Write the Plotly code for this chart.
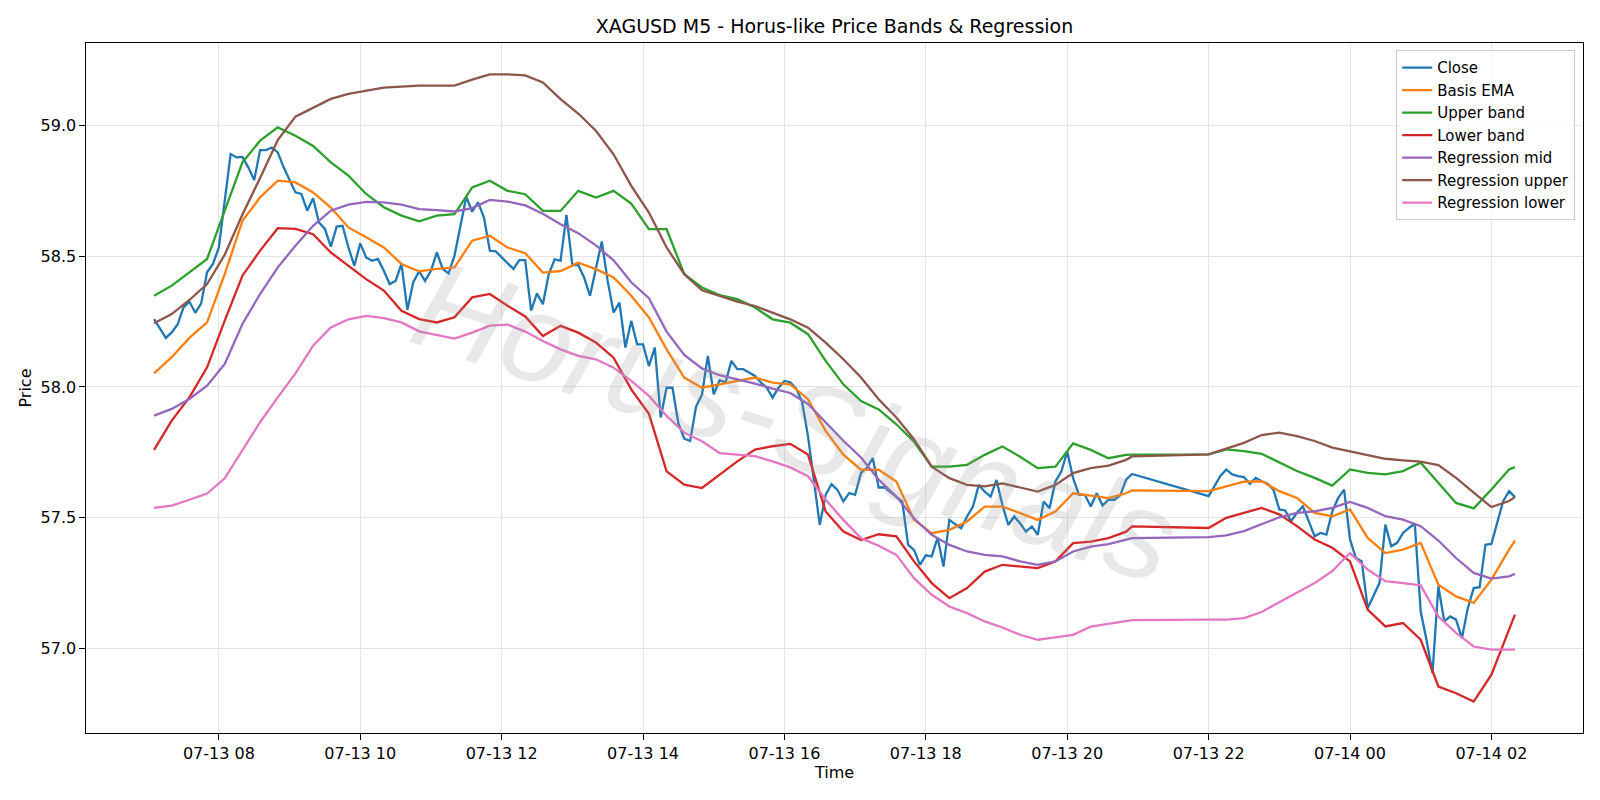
import pandas as pd
import plotly.graph_objects as go

# ---------------- data ----------------
close_vals = [
    # 07:05 .. 07:55
    58.260, 58.222, 58.188, 58.209, 58.239, 58.305, 58.327, 58.284, 58.320, 58.439, 58.471,
    # 08:00 .. 08:55
    58.534, 58.713, 58.892, 58.879, 58.881, 58.841, 58.792, 58.907, 58.907, 58.917, 58.898, 58.841,
    # 09
    58.790, 58.745, 58.739, 58.675, 58.723, 58.630, 58.605, 58.537, 58.614, 58.617, 58.534, 58.464,
    # 10
    58.550, 58.496, 58.483, 58.490, 58.445, 58.394, 58.406, 58.471, 58.295, 58.401, 58.443, 58.406,
    # 11
    58.445, 58.515, 58.452, 58.435, 58.503, 58.617, 58.728, 58.671, 58.707, 58.649, 58.522, 58.519,
    # 12
    58.496, 58.471, 58.452, 58.486, 58.486, 58.292, 58.358, 58.317, 58.432, 58.489, 58.483, 58.659,
    # 13
    58.467, 58.467, 58.419, 58.349, 58.457, 58.557, 58.406, 58.285, 58.323, 58.151, 58.253, 58.163,
    # 14
    58.163, 58.080, 58.151, 57.883, 57.997, 57.997, 57.860, 57.802, 57.793, 57.925, 57.970, 58.119,
    # 15
    57.972, 58.026, 58.017, 58.100, 58.068, 58.068, 58.055, 58.042, 58.017, 57.997, 57.959, 57.997,
    # 16
    58.023, 58.018, 57.994, 57.943, 57.812, 57.651, 57.472, 57.587, 57.628, 57.606, 57.562, 57.594,
    # 17
    57.587, 57.671, 57.690, 57.728, 57.615, 57.616, 57.597, 57.577, 57.561, 57.395, 57.376, 57.319,
    # 18
    57.355, 57.351, 57.423, 57.312, 57.491, 57.474, 57.459, 57.504, 57.542, 57.625, 57.599, 57.580,
    # 19
    57.644, 57.548, 57.472, 57.504, 57.478, 57.446, 57.466, 57.434, 57.561, 57.536, 57.638, 57.676,
    # 20
    57.753, 57.651, 57.587, 57.587, 57.542, 57.593, 57.546, 57.568, 57.568, 57.585, 57.645, 57.667,
    # 22
    57.582, 57.620, 57.659, 57.684, 57.665, 57.659, 57.655, 57.629, 57.652, 57.639, 57.629, 57.607,
    # 23
    57.531, 57.527, 57.486, 57.518, 57.543, 57.486, 57.428, 57.441, 57.435, 57.524, 57.575, 57.607,
    # 00
    57.416, 57.345, 57.332, 57.153, 57.198, 57.249, 57.473, 57.390, 57.403, 57.441, 57.460, 57.476,
    # 01
    57.140, 57.030, 56.904, 57.237, 57.102, 57.121, 57.109, 57.038, 57.153, 57.230, 57.233, 57.396,
    # 02:00 .. 02:20
    57.399, 57.486, 57.563, 57.601, 57.578,
]

basis_ema = [
    58.052, 58.114, 58.188, 58.247,
    58.432, 58.636, 58.726, 58.790,
    58.783, 58.745, 58.687, 58.611,
    58.573, 58.534, 58.471, 58.443,
    58.452, 58.458, 58.560, 58.579,
    58.534, 58.512, 58.438, 58.444,
    58.476, 58.451, 58.419, 58.349,
    58.266, 58.144, 58.036, 57.997,
    58.010, 58.023, 58.036, 58.017,
    58.010, 57.953, 57.832, 57.741,
    57.683, 57.683, 57.638, 57.491,
    57.440, 57.453, 57.485, 57.542,
    57.542, 57.517, 57.491, 57.523,
    57.593, 57.584, 57.574, 57.593, 57.604,
    57.601, 57.620, 57.637, 57.639,
    57.601, 57.575, 57.518, 57.505,
    57.531, 57.422, 57.364, 57.377,
    57.403, 57.243, 57.198, 57.173,
    57.262, 57.377, 57.412,
]

upper_band = [
    58.349, 58.388, 58.439, 58.490,
    58.675, 58.860, 58.943, 58.994,
    58.962, 58.923, 58.860, 58.809,
    58.739, 58.688, 58.656, 58.634,
    58.656, 58.662, 58.764, 58.790,
    58.751, 58.738, 58.674, 58.674,
    58.751, 58.725, 58.751, 58.702,
    58.604, 58.604, 58.432, 58.381,
    58.352, 58.336, 58.304, 58.259,
    58.246, 58.202, 58.100, 58.010,
    57.946, 57.914, 57.857, 57.790,
    57.695, 57.695, 57.702, 57.740,
    57.772, 57.733, 57.689, 57.695,
    57.784, 57.759, 57.727, 57.740, 57.741,
    57.742, 57.761, 57.754, 57.744,
    57.710, 57.678, 57.652, 57.622,
    57.684, 57.671, 57.665, 57.678,
    57.710, 57.633, 57.556, 57.535,
    57.607, 57.684, 57.693,
]

lower_band = [
    57.759, 57.871, 57.960, 58.075,
    58.254, 58.426, 58.522, 58.608,
    58.605, 58.585, 58.515, 58.464,
    58.413, 58.369, 58.292, 58.260,
    58.247, 58.267, 58.343, 58.356,
    58.311, 58.270, 58.195, 58.234,
    58.208, 58.170, 58.112, 57.991,
    57.897, 57.677, 57.626, 57.613,
    57.664, 57.715, 57.760, 57.773,
    57.782, 57.741, 57.523, 57.446,
    57.414, 57.436, 57.428, 57.332,
    57.249, 57.191, 57.230, 57.293,
    57.319, 57.313, 57.306, 57.332,
    57.402, 57.408, 57.421, 57.446, 57.466,
    57.460, 57.499, 57.518, 57.537,
    57.512, 57.467, 57.416, 57.384,
    57.332, 57.147, 57.083, 57.096,
    57.032, 56.853, 56.827, 56.795,
    56.898, 57.070, 57.128,
]

reg_mid = [
    57.890, 57.916, 57.954, 58.005,
    58.088, 58.241, 58.356, 58.458,
    58.541, 58.617, 58.675, 58.698,
    58.709, 58.707, 58.698, 58.681,
    58.677, 58.672, 58.685, 58.716,
    58.710, 58.695, 58.663, 58.623,
    58.589, 58.542, 58.485, 58.401,
    58.340, 58.212, 58.123, 58.071,
    58.045, 58.029, 58.013, 57.994,
    57.977, 57.935, 57.863, 57.794,
    57.730, 57.645, 57.580, 57.497,
    57.434, 57.395, 57.370, 57.357,
    57.351, 57.332, 57.319, 57.332,
    57.370, 57.389, 57.398, 57.415, 57.421,
    57.425, 57.432, 57.448, 57.473,
    57.501, 57.518, 57.524, 57.537,
    57.560, 57.537, 57.505, 57.492,
    57.467, 57.412, 57.345, 57.288,
    57.266, 57.275, 57.284,
]

reg_upper = [
    58.244, 58.279, 58.333, 58.394,
    58.506, 58.660, 58.800, 58.945,
    59.035, 59.070, 59.103, 59.122,
    59.134, 59.146, 59.150, 59.154,
    59.154, 59.154, 59.177, 59.197,
    59.197, 59.193, 59.166, 59.102,
    59.047, 58.981, 58.891, 58.770,
    58.668, 58.534, 58.432, 58.370,
    58.349, 58.327, 58.310, 58.285,
    58.259, 58.227, 58.170, 58.106,
    58.036, 57.953, 57.883, 57.800,
    57.695, 57.651, 57.625, 57.619,
    57.631, 57.615, 57.599, 57.625,
    57.670, 57.689, 57.699, 57.721, 57.734,
    57.742, 57.763, 57.786, 57.816,
    57.825, 57.812, 57.793, 57.768,
    57.754, 57.739, 57.725, 57.719,
    57.714, 57.701, 57.652, 57.595,
    57.540, 57.563, 57.578,
]

reg_lower = [
    57.537, 57.546, 57.568, 57.592,
    57.650, 57.756, 57.865, 57.960,
    58.052, 58.158, 58.228, 58.259,
    58.272, 58.264, 58.247, 58.213,
    58.199, 58.185, 58.208, 58.235,
    58.239, 58.212, 58.176, 58.144,
    58.119, 58.106, 58.074, 58.023,
    57.966, 57.889, 57.825, 57.792,
    57.747, 57.741, 57.735, 57.715,
    57.692, 57.658, 57.568, 57.491,
    57.421, 57.392, 57.357, 57.268,
    57.204, 57.159, 57.134, 57.102,
    57.079, 57.051, 57.032, 57.041,
    57.051, 57.082, 57.092, 57.102, 57.107,
    57.109, 57.109, 57.115, 57.138,
    57.176, 57.211, 57.249, 57.295,
    57.364, 57.301, 57.256, 57.249,
    57.240, 57.121, 57.058, 57.006,
    56.994, 56.994, 56.994,
]

series_names = ["Close", "Basis EMA", "Upper band", "Lower band",
                "Regression mid", "Regression upper", "Regression lower"]
series_colors = ["#1f77b4", "#ff7f0e", "#2ca02c", "#d62728",
                 "#9467bd", "#8c564b", "#e377c2"]

# ---------------- time axes ----------------
t_close = pd.date_range("2025-07-13 07:05", "2025-07-13 20:55", freq="5min").append(
    pd.date_range("2025-07-13 22:00", "2025-07-14 02:20", freq="5min"))
t_smooth = (pd.date_range("2025-07-13 07:05", "2025-07-13 20:50", freq="15min")
            .append(pd.DatetimeIndex(["2025-07-13 20:55"]))
            .append(pd.date_range("2025-07-13 22:00", "2025-07-14 02:15", freq="15min"))
            .append(pd.DatetimeIndex(["2025-07-14 02:20"])))

def fit(t, v):
    n = min(len(t), len(v))
    return t[:n], v[:n]

fig = go.Figure()
all_series = [(t_close, close_vals), (t_smooth, basis_ema), (t_smooth, upper_band),
              (t_smooth, lower_band), (t_smooth, reg_mid), (t_smooth, reg_upper),
              (t_smooth, reg_lower)]
for (t, v), name, col in zip(all_series, series_names, series_colors):
    tt, vv = fit(t, v)
    fig.add_trace(go.Scatter(x=tt, y=vv, mode="lines", name=name,
                             line=dict(color=col, width=2.3)))

# x range with 5% margins like matplotlib
t0, t1 = t_close[0], t_close[-1]
pad = (t1 - t0) * 0.05
all_y = close_vals + basis_ema + upper_band + lower_band + reg_mid + reg_upper + reg_lower
ymin, ymax = min(all_y), max(all_y)
ypad = (ymax - ymin) * 0.05

font_main = "DejaVu Sans, Verdana, sans-serif"

fig.add_annotation(
    text="Horus-Signals", xref="paper", yref="paper", x=0.474, y=0.452,
    showarrow=False, textangle=18,
    font=dict(family="Liberation Sans, Arial, sans-serif", size=126,
              color="rgba(150,150,150,0.22)", style="italic"),
)

fig.update_layout(
    width=1600, height=800,
    margin=dict(l=86, r=17, t=43, b=67),
    paper_bgcolor="white", plot_bgcolor="white",
    font=dict(family=font_main, size=16, color="black"),
    title=dict(text="XAGUSD M5 - Horus-like Price Bands & Regression",
               x=0.5, xref="paper", xanchor="center",
               y=1 - 26.5 / 800, yanchor="middle",
               font=dict(size=19, family=font_main, color="black")),
    showlegend=True,
    legend=dict(x=0.9948, y=0.9894, xanchor="right", yanchor="top",
                bgcolor="rgba(255,255,255,0.8)", bordercolor="#cccccc", borderwidth=1,
                font=dict(size=15, family=font_main), itemwidth=30,
                tracegroupgap=0),
)
fig.update_xaxes(
    range=[t0 - pad, t1 + pad],
    tickformat="%m-%d %H", dtick=2 * 3600 * 1000, tick0="2025-07-13 08:00",
    showgrid=True, gridcolor="#e4e4e4", gridwidth=1,
    showline=True, linecolor="black", linewidth=1.2, mirror=True,
    ticks="outside", ticklen=5.5, tickcolor="black", tickwidth=1.2,
    tickfont=dict(size=16), zeroline=False,
    title=dict(text="Time", font=dict(size=16), standoff=4),
)
fig.update_yaxes(
    range=[ymin - ypad, ymax + ypad],
    tickformat=".1f", dtick=0.5, tick0=57.0,
    showgrid=True, gridcolor="#e4e4e4", gridwidth=1,
    showline=True, linecolor="black", linewidth=1.2, mirror=True,
    ticks="outside", ticklen=5.5, tickcolor="black", tickwidth=1.2,
    tickfont=dict(size=16), zeroline=False,
    title=dict(text="Price", font=dict(size=16), standoff=4),
)

fig.write_html("out.html")
